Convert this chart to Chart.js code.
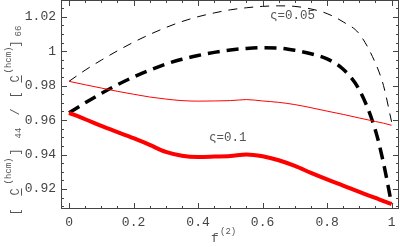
<!DOCTYPE html>
<html>
<head>
<meta charset="utf-8">
<script src="https://cdn.jsdelivr.net/npm/chart.js@4.4.0/dist/chart.umd.min.js"></script>
<style>
  html, body { margin: 0; padding: 0; background: #fff; }
</style>
</head>
<body>
<canvas id="chart" width="400" height="247"></canvas>
<script>
// f^(2) sample points shared by all curves
const fValues = [0, 0.05, 0.1, 0.15, 0.2, 0.25, 0.3, 0.35, 0.4, 0.45, 0.5, 0.55, 0.6, 0.65, 0.7, 0.75, 0.8, 0.85, 0.9, 0.95, 0.975, 1];

// thin dashed black (ς=0.05)
const dashedThin = [0.9825, 0.9890, 0.9948, 1.0002, 1.0052, 1.0097, 1.0137, 1.0172, 1.0200, 1.0222, 1.0240, 1.0252, 1.0260, 1.0263, 1.0260, 1.0245, 1.0218, 1.0170, 1.0100, 0.9930, 0.9800, 0.9590];
// thick dashed black
const dashedThick = [0.9642, 0.9700, 0.9755, 0.9805, 0.9850, 0.9890, 0.9925, 0.9953, 0.9975, 0.9993, 1.0007, 1.0016, 1.0020, 1.0018, 1.0005, 0.9985, 0.9955, 0.9895, 0.9775, 0.9540, 0.9350, 0.9113];
// thin solid red
const redThin = [0.9825, 0.9805, 0.9786, 0.9767, 0.9750, 0.9734, 0.9722, 0.9713, 0.9710, 0.9711, 0.9713, 0.9719, 0.9711, 0.9703, 0.9690, 0.9672, 0.9652, 0.9633, 0.9612, 0.9592, 0.9582, 0.9570];
// thick solid red (ς=0.1)
const redThick = [0.9642, 0.9605, 0.9566, 0.9530, 0.9495, 0.9456, 0.9415, 0.9393, 0.9386, 0.9388, 0.9391, 0.9401, 0.9390, 0.9367, 0.9334, 0.9294, 0.9256, 0.9220, 0.9183, 0.9148, 0.9130, 0.9113];

const xTicks = [0, 0.2, 0.4, 0.6, 0.8, 1];
const xTickLabels = ['0', '0.2', '0.4', '0.6', '0.8', '1'];
const yTicks = [0.92, 0.94, 0.96, 0.98, 1, 1.02];
const yTickLabels = ['0.92', '0.94', '0.96', '0.98', '1', '1.02'];

const X_MIN = -0.025, X_MAX = 1.023;
const Y_MIN = 0.9084, Y_MAX = 1.0297;

const toPts = (ys) => ys.map((y, i) => ({ x: fValues[i], y: y }));

const MONO = "'Liberation Mono', 'DejaVu Sans Mono', monospace";
const GREY = '#444';

// frame with inward tick marks on all four sides (Mathematica style)
const frameTicks = {
    id: 'frameTicks',
    afterDatasetsDraw(chart) {
        const { ctx, chartArea: a, scales } = chart;
        const xs = scales.x, ys = scales.y;
        ctx.save();
        ctx.strokeStyle = GREY;
        ctx.lineWidth = 1;
        ctx.strokeRect(Math.round(a.left) + 0.5, Math.round(a.top) + 0.5, Math.round(a.right - a.left) - 1, Math.round(a.bottom - a.top) - 1);
        ctx.beginPath();
        for (let i = Math.ceil(X_MIN / 0.05); i <= Math.floor(X_MAX / 0.05); i++) {
            const px = Math.round(xs.getPixelForValue(i * 0.05)) + 0.5;
            const len = i % 4 === 0 ? 6 : 3;
            ctx.moveTo(px, a.bottom); ctx.lineTo(px, a.bottom - len);
            ctx.moveTo(px, a.top); ctx.lineTo(px, a.top + len);
        }
        for (let i = Math.ceil(Y_MIN / 0.005); i <= Math.floor(Y_MAX / 0.005); i++) {
            const py = Math.round(ys.getPixelForValue(i * 0.005)) + 0.5;
            const len = i % 4 === 0 ? 6 : 3;
            ctx.moveTo(a.left, py); ctx.lineTo(a.left + len, py);
            ctx.moveTo(a.right, py); ctx.lineTo(a.right - len, py);
        }
        ctx.stroke();
        ctx.restore();
    }
};

// axis titles and curve annotations
const labels = {
    id: 'labels',
    afterDraw(chart) {
        const { ctx, scales } = chart;
        ctx.save();
        ctx.fillStyle = '#555';

        // annotations
        ctx.font = '12.5px ' + MONO;
        ctx.textAlign = 'left';
        ctx.textBaseline = 'middle';
        ctx.fillText('ς=0.05', scales.x.getPixelForValue(0.623), scales.y.getPixelForValue(1.0205));
        ctx.fillText('ς=0.1', scales.x.getPixelForValue(0.434), scales.y.getPixelForValue(0.9497));

        // x title f^(2)
        ctx.textBaseline = 'alphabetic';
        ctx.font = '13px ' + MONO;
        ctx.fillText('f', 211, 242);
        ctx.font = '9px ' + MONO;
        ctx.fillText('(2)', 220, 234);

        // rotated y title: [C(hcm)]44 / [C(hcm)]66
        const parts = [
            { t: '[', y: 212, x: 19, size: 12 },
            { t: 'C', y: 192, x: 19, size: 12, u: true },
            { t: '(hcm)', y: 171, x: 11, size: 9 },
            { t: ']', y: 152, x: 19, size: 12 },
            { t: '44', y: 133, x: 21, size: 9 },
            { t: '/', y: 112, x: 19, size: 12 },
            { t: '[', y: 95, x: 19, size: 12 },
            { t: 'C', y: 79, x: 19, size: 12, u: true },
            { t: '(hcm)', y: 60, x: 11, size: 9 },
            { t: ']', y: 44, x: 19, size: 12 },
            { t: '66', y: 31, x: 21, size: 9 }
        ];
        ctx.rotate(-Math.PI / 2);
        ctx.textAlign = 'center';
        ctx.strokeStyle = '#555';
        ctx.lineWidth = 1;
        parts.forEach(p => {
            ctx.font = p.size + 'px ' + MONO;
            ctx.fillText(p.t, -p.y, p.x);
            if (p.u) {
                const w = ctx.measureText(p.t).width;
                ctx.beginPath();
                ctx.moveTo(-p.y - w / 2, p.x + 2.5);
                ctx.lineTo(-p.y + w / 2, p.x + 2.5);
                ctx.stroke();
            }
        });
        ctx.restore();
    }
};

const ctx = document.getElementById('chart').getContext('2d');
new Chart(ctx, {
    type: 'line',
    data: {
        datasets: [
            { data: toPts(redThin), borderColor: '#ff0000', borderWidth: 1 },
            { data: toPts(redThick), borderColor: '#ff0000', borderWidth: 4 },
            { data: toPts(dashedThin), borderColor: '#000', borderWidth: 1, borderDash: [9, 7] },
            { data: toPts(dashedThick), borderColor: '#000', borderWidth: 3.5, borderDash: [12, 7] }
        ]
    },
    options: {
        responsive: false,
        animation: false,
        devicePixelRatio: 1,
        layout: { padding: { top: 0, right: 1, left: 0, bottom: 0 } },
        elements: {
            point: { radius: 0 },
            line: { fill: false, cubicInterpolationMode: 'monotone', borderCapStyle: 'butt' }
        },
        scales: {
            x: {
                type: 'linear', min: X_MIN, max: X_MAX,
                grid: { display: false, drawTicks: false }, border: { display: false },
                afterBuildTicks: s => { s.ticks = xTicks.map(v => ({ value: v })); },
                afterFit: s => { s.height = 38; s.paddingLeft = 0; s.paddingRight = 0; },
                ticks: {
                    autoSkip: false, maxRotation: 0, padding: 6, color: GREY,
                    font: { family: MONO, size: 13 },
                    callback: (v) => xTickLabels[xTicks.indexOf(v)]
                }
            },
            y: {
                type: 'linear', min: Y_MIN, max: Y_MAX,
                grid: { display: false, drawTicks: false }, border: { display: false },
                afterBuildTicks: s => { s.ticks = yTicks.map(v => ({ value: v })); },
                afterFit: s => { s.width = 61; s.paddingTop = 0; s.paddingBottom = 0; },
                ticks: {
                    autoSkip: false, padding: 5, color: GREY,
                    font: { family: MONO, size: 13 },
                    callback: (v) => yTickLabels[yTicks.indexOf(v)]
                }
            }
        },
        plugins: { legend: { display: false }, tooltip: { enabled: false } }
    },
    plugins: [frameTicks, labels]
});
</script>
</body>
</html>
